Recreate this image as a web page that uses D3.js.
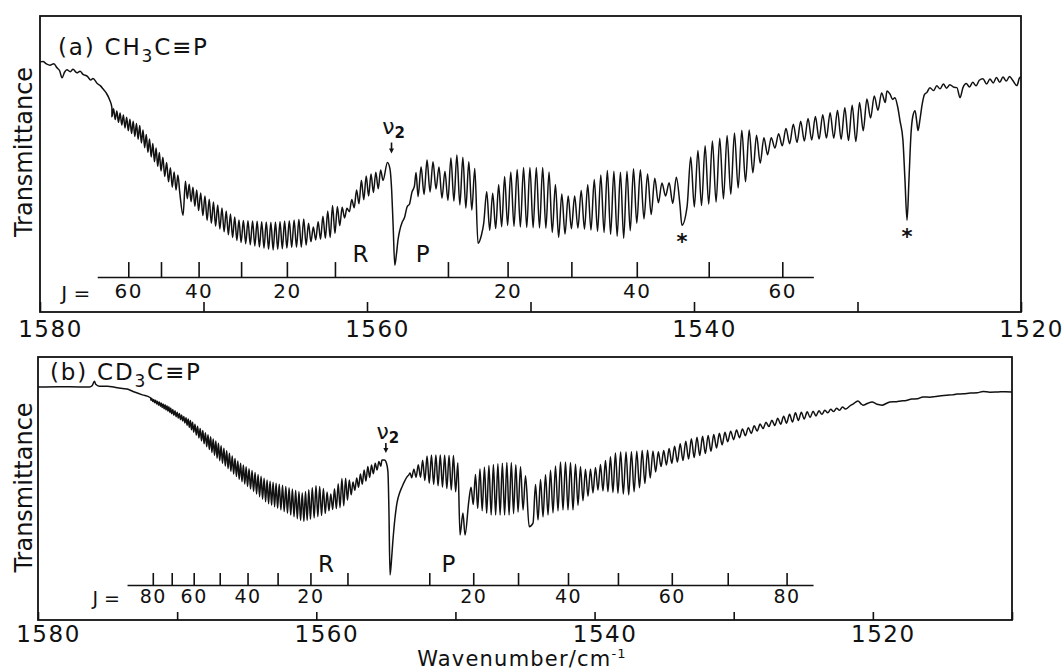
<!DOCTYPE html>
<html>
<head>
<meta charset="utf-8">
<script src="https://cdn.jsdelivr.net/npm/d3@7"></script>
<style>
  body { margin: 0; background: #fff; }
  text { font-family: "DejaVu Sans", sans-serif; fill: #111; }
</style>
</head>
<body>
<svg id="chart" width="1064" height="670"></svg>
<script>
// ---------- panel (a) CH3C≡P ----------
var wnTicksA = [1580, 1570, 1560, 1550, 1540, 1530, 1520];
var wnLabelsA = [1580, 1560, 1540, 1520];
var jLevelsA = [10, 20, 30, 40, 50, 60];
var jLabelsA = [20, 40, 60];
var rTicksA = [1561.96, 1564.9, 1567.7, 1570.3, 1572.6, 1574.6];   // R(J) positions, cm-1
var pTicksA = [1555.05, 1551.4, 1547.5, 1543.5, 1539.1, 1534.6];   // P(J) positions
var jRangeA = [1576.5, 1532.7];
// smooth parts of the trace [wavenumber, transmittance]
var traceA = [[1580.0, 84.5], [1579.82, 84.6], [1579.6, 83.8], [1579.39, 83.4], [1579.15, 83.9], [1578.96, 82.5],
  [1578.8, 81.5], [1578.65, 79.1], [1578.5, 81.0], [1578.35, 81.8], [1578.15, 81.2], [1577.98, 82.0],
  [1577.75, 80.8], [1577.55, 81.3], [1577.37, 80.3], [1577.1, 79.6], [1576.9, 78.4], [1576.76, 78.9],
  [1576.5, 77.2], [1576.3, 76.4], [1576.15, 75.4], [1575.95, 74.0], [1575.75, 71.8],
  // Q branch of nu2
  [1558.6, 48.5], [1558.5, 42], [1558.4, 29], [1558.3, 15.8], [1558.2, 19.5], [1558.1, 24.5], [1558.0, 27.5],
  [1557.85, 30.3], [1557.7, 32], [1557.55, 35.5], [1557.4, 36.5], [1557.25, 40.5], [1557.1, 42.5],
  // high-J end and the starred band
  [1528.0, 73.5], [1527.85, 71.8], [1527.71, 72.4], [1527.55, 69.5], [1527.4, 64.6], [1527.22, 58], [1527.1, 45],
  [1526.97, 31.0], [1526.85, 45], [1526.73, 60], [1526.61, 66.3], [1526.48, 68.0], [1526.38, 64.5], [1526.3, 61.3],
  [1526.18, 65], [1526.05, 70], [1525.9, 73.5], [1525.75, 74.2], [1525.57, 75.8], [1525.35, 74.8], [1525.15, 76.4],
  [1524.95, 75.4], [1524.75, 77.0], [1524.55, 75.6], [1524.35, 76.8], [1524.1, 75.9], [1523.92, 75.8], [1523.73, 72.4],
  [1523.55, 75.8], [1523.35, 77.2], [1523.15, 76.0], [1522.95, 77.6], [1522.75, 76.4], [1522.55, 78.3], [1522.33, 78.8],
  [1522.1, 77.0], [1521.9, 78.7], [1521.7, 77.4], [1521.5, 79.2], [1521.3, 77.6], [1521.1, 79.4], [1520.9, 78.0],
  [1520.7, 79.6], [1520.5, 78.2], [1520.25, 76.5], [1520.1, 79.0], [1520.0, 79.5]];
// envelopes of the rotational structure (top = between lines, bottom = on the lines)
var rUpA = [[1575.6, 69.0], [1573.9, 63.0], [1571.9, 47.8], [1570.8, 42.8], [1569.8, 38.7], [1567.8, 31.0], [1565.8, 30.3],
  [1564.5, 31.0], [1563.9, 31.6], [1563.3, 28.6], [1562.1, 36.0], [1561.2, 35.0], [1560.25, 45.5], [1559.2, 47.8], [1558.75, 50.5]];
var rLoA = [[1575.6, 66.0], [1573.9, 57.9], [1571.9, 42.1], [1570.8, 37.5], [1569.8, 31.0], [1567.8, 23.6], [1565.8, 20.9],
  [1564.5, 21.9], [1563.9, 21.9], [1563.3, 24.2], [1562.1, 25.3], [1561.2, 33.3], [1560.25, 37.7], [1559.2, 42.1], [1558.75, 48.0]];
var pUpA = [[1557.0, 47.1], [1556.3, 51.5], [1555.7, 50.2], [1555.35, 46.1], [1554.75, 53.5], [1554.1, 52.2], [1553.5, 49.5],
  [1552.5, 38.7], [1551.45, 46.8], [1550.5, 48.8], [1549.0, 48.8], [1548.2, 40.1], [1547.4, 38.7], [1546.2, 44.4],
  [1545.3, 47.8], [1544.3, 47.1], [1543.5, 48.8], [1542.5, 45.5], [1541.9, 43.4], [1541.3, 43.8], [1540.06, 53.5],
  [1538.84, 57.9], [1537.98, 59.6], [1536.76, 62.0], [1535.96, 58.9], [1535.17, 58.9], [1534.13, 63.0], [1533.09, 65.3],
  [1531.68, 67.3], [1530.03, 70.4], [1529.24, 72.4], [1528.2, 74.7]];
var pLoA = [[1557.0, 38.7], [1556.3, 40.1], [1555.7, 41.8], [1555.35, 37.7], [1554.75, 37.7], [1554.1, 35.4], [1553.5, 34.3],
  [1552.5, 27.6], [1551.45, 29.3], [1550.5, 28.6], [1549.0, 28.3], [1548.2, 24.9], [1547.4, 28.6], [1546.2, 27.6],
  [1545.3, 26.6], [1544.3, 24.9], [1543.5, 30.0], [1542.5, 33.3], [1541.9, 40.1], [1541.3, 36.7], [1540.06, 35.4],
  [1538.84, 36.7], [1537.98, 38.7], [1536.76, 44.4], [1535.96, 50.2], [1535.17, 55.2], [1534.13, 56.9], [1533.09, 57.9],
  [1531.68, 58.9], [1530.03, 57.5], [1529.24, 65.3], [1528.2, 71.4]];
var dipsA = [[1571.25, 32.7], [1553.21, 23.2], [1553.0, 26.0], [1540.74, 29.3]];
var starsA = [[1540.74, 29.3], [1526.97, 31.0]];
var nuA = [1558.5, 50.5];
var branchA = [["R", 1560.4], ["P", 1556.6]];

// ---------- panel (b) CD3C≡P ----------
var wnTicksB = [1580, 1570, 1560, 1550, 1540, 1530, 1520, 1510];
var wnLabelsB = [1580, 1560, 1540, 1520];
var jLevelsB = [10, 20, 30, 40, 50, 60, 70, 80];
var jLabelsB = [20, 40, 60, 80];
var rTicksB = [1557.76, 1560.42, 1562.78, 1564.94, 1566.94, 1568.81, 1570.39, 1571.75];
var pTicksB = [1551.88, 1548.72, 1545.5, 1541.91, 1538.32, 1534.45, 1530.43, 1526.2];
var jRangeB = [1573.6, 1524.3];
var traceB = [[1580.0, 88.6], [1578.5, 88.7], [1577.0, 88.6], [1576.3, 88.6], [1576.1, 89.2], [1575.95, 90.8],
  [1575.85, 89.6], [1575.6, 88.9], [1575.04, 88.9], [1574.3, 88.3], [1573.6, 87.8], [1573.17, 86.9], [1572.5, 85.6],
  [1571.95, 84.6],
  [1555.1, 60.8], [1554.95, 59.5], [1554.85, 56.3], [1554.78, 42], [1554.7, 17.1], [1554.6, 22.5], [1554.49, 30.4],
  [1554.35, 38.5], [1554.2, 44.5], [1554.0, 48.5], [1553.84, 50.6], [1553.65, 52.8], [1553.48, 54.4], [1553.35, 55.2],
  [1521.43, 82.1], [1521.07, 83.3], [1520.85, 82.2], [1520.71, 81.7], [1520.4, 82.3], [1520.06, 82.9], [1519.7, 82.0],
  [1519.34, 81.7], [1519.0, 82.4], [1518.77, 82.9], [1518.3, 83.0], [1518.0, 83.3], [1517.6, 83.5], [1517.2, 84.0],
  [1516.8, 84.1], [1516.4, 84.8], [1515.9, 84.7], [1515.5, 85.0], [1515.1, 85.3], [1514.7, 85.5], [1514.3, 85.6],
  [1513.95, 85.9], [1513.5, 86.0], [1513.0, 86.3], [1512.5, 86.4], [1512.08, 86.9], [1511.6, 86.6], [1511.0, 86.7],
  [1510.5, 86.8], [1510.0, 86.7]];
var rUpB = [[1571.9, 84.4], [1570.73, 81.5], [1569.58, 77.6], [1569.08, 76.0], [1567.14, 67.7], [1565.48, 59.7],
  [1563.54, 53.2], [1562.1, 50.6], [1560.95, 48.3], [1559.95, 51.3], [1559.52, 50.2], [1559.01, 47.5], [1558.08, 54.4],
  [1557.36, 52.5], [1556.35, 58.2], [1555.28, 60.8]];
var rLoB = [[1571.9, 83.6], [1570.73, 79.6], [1569.58, 75.6], [1569.08, 73.0], [1567.14, 61.6], [1565.48, 53.2],
  [1563.54, 44.5], [1562.1, 40.7], [1560.95, 37.3], [1559.95, 39.2], [1559.52, 39.9], [1559.01, 41.8], [1558.08, 43.0],
  [1557.36, 48.7], [1556.35, 53.2], [1555.28, 58.9]];
var pUpB = [[1553.26, 55.9], [1552.55, 59.7], [1551.97, 62.7], [1550.96, 62.7], [1550.05, 62.5], [1548.95, 49.4],
  [1548.45, 57.0], [1547.51, 58.9], [1546.08, 60.1], [1545.14, 57.8], [1544.64, 49.4], [1543.71, 54.4], [1542.48, 60.1],
  [1541.98, 60.1], [1541.55, 59.7], [1540.54, 57.0], [1539.82, 58.2], [1538.39, 63.9], [1537.46, 63.9], [1536.24, 64.6],
  [1535.3, 63.9], [1534.36, 65.8], [1532.93, 69.2], [1531.71, 70.3], [1530.49, 71.5], [1529.04, 73.0], [1527.61, 75.3],
  [1525.74, 78.7], [1523.3, 79.8], [1521.6, 81.6]];
var pLoB = [[1553.26, 54.0], [1552.55, 54.4], [1551.97, 52.1], [1550.96, 50.6], [1550.05, 49.0], [1548.95, 45.0],
  [1548.45, 42.6], [1547.51, 39.9], [1546.08, 39.9], [1545.14, 41.8], [1544.64, 36.1], [1543.71, 39.2], [1542.48, 41.8],
  [1541.98, 41.8], [1541.55, 41.8], [1540.54, 46.8], [1539.82, 49.4], [1538.39, 48.3], [1537.46, 47.5], [1536.24, 52.5],
  [1535.3, 58.2], [1534.36, 59.7], [1532.93, 61.6], [1531.71, 63.9], [1530.49, 67.7], [1529.04, 70.3], [1527.61, 73.4],
  [1525.74, 75.3], [1523.3, 78.7], [1521.6, 80.6]];
var dipsB = [[1549.67, 32.3], [1549.46, 40.7], [1549.31, 32.3], [1544.7, 35.5]];
var starsB = [];
var nuB = [1555.0, 60.8];
var branchB = [["R", 1559.3], ["P", 1550.5]];

var svg = d3.select("#chart");

// put together the plotted points: smooth parts + one dip per rotational line
function buildTrace(p) {
  var ranges = [];
  var osc = [];
  [[p.rTicks, p.rUp, p.rLo, 0], [p.pTicks, p.pUp, p.pLo, 1]].forEach(function (b) {
    var up = b[1], lo = b[2];
    var hi = up[0][0], lw = up[up.length - 1][0];
    ranges.push([lw, hi]);
    var jToWn = d3.scaleLinear().domain(p.jLevels).range(b[0]);
    var upS = d3.scaleLinear().domain(up.map(d => d[0])).range(up.map(d => d[1]));
    var loS = d3.scaleLinear().domain(lo.map(d => d[0])).range(lo.map(d => d[1]));
    var lines = d3.range(b[3], 200).map(jToWn)
      .filter(w => w < hi && w > lw).sort(d3.descending);
    osc.push([hi, upS(hi)]);
    lines.forEach(function (w, i) {
      osc.push([w, loS(w)]);
      if (i < lines.length - 1) {
        var m = (w + lines[i + 1]) / 2;
        osc.push([m, upS(m)]);
      }
    });
    osc.push([lw, upS(lw)]);
  });
  osc = osc.filter(d => !p.dips.some(q => Math.abs(q[0] - d[0]) < 0.12));
  var smooth = p.trace.filter(d => !ranges.some(r => d[0] >= r[0] && d[0] <= r[1]));
  return smooth.concat(osc, p.dips).sort((a, b) => b[0] - a[0]);
}

function drawPanel(p) {
  var x = d3.scaleLinear().domain(p.wnRange).range([p.left, p.right]);
  var y = d3.scaleLinear().domain([0, 100]).range([p.bottom, p.top]);
  var g = svg.append("g");

  // spectrum
  g.append("path")
    .datum(buildTrace(p))
    .attr("d", d3.line().x(d => x(d[0])).y(d => y(d[1])).curve(d3.curveMonotoneX))
    .attr("fill", "none")
    .attr("stroke", "#111")
    .attr("stroke-width", 1.5)
    .attr("stroke-linejoin", "round");

  // frame
  g.append("rect")
    .attr("x", p.left).attr("y", p.top)
    .attr("width", p.right - p.left).attr("height", p.bottom - p.top)
    .attr("fill", "none").attr("stroke", "#111").attr("stroke-width", 1.8);

  // wavenumber axis, ticks pointing inwards
  var ax = d3.axisBottom(x)
    .tickValues(p.wnTicks)
    .tickSizeInner(-p.tickLen).tickSizeOuter(0)
    .tickPadding(p.labelPad)
    .tickFormat(d => p.wnLabels.indexOf(d) >= 0 ? d : "");
  g.append("g")
    .attr("transform", "translate(0," + p.bottom + ")")
    .call(ax)
    .call(s => s.select(".domain").remove())
    .call(s => s.selectAll("line").attr("stroke", "#111").attr("stroke-width", 1.6))
    .call(s => s.selectAll("text").attr("dx", 10).attr("fill", "#111")
      .style("font-size", "23px").style("letter-spacing", "1.5px").style("font-family", "DejaVu Sans"));

  // J scale of the rotational assignment
  var jOf = new Map();
  p.jLevels.forEach(function (j, i) { jOf.set(p.rTicks[i], j); jOf.set(p.pTicks[i], j); });
  var xJ = x.copy().domain(p.jRange).range(p.jRange.map(x));
  var axJ = d3.axisBottom(xJ)
    .tickValues(p.rTicks.concat(p.pTicks))
    .tickSizeInner(-p.jTickLen).tickSizeOuter(0)
    .tickPadding(p.jPad)
    .tickFormat(d => p.jLabels.indexOf(jOf.get(d)) >= 0 ? jOf.get(d) : "");
  g.append("g")
    .attr("transform", "translate(0," + y(p.jLevel) + ")")
    .call(axJ)
    .call(s => s.selectAll("line,path").attr("stroke", "#111").attr("stroke-width", 1.6))
    .call(s => s.selectAll("text").attr("fill", "#111")
      .style("font-size", p.jFont + "px").style("letter-spacing", "1.5px").style("font-family", "DejaVu Sans"));
  g.append("text")
    .attr("x", xJ(p.jRange[0]) - 7)
    .attr("y", y(p.jLevel) + p.jPad + p.jFont * 0.71 + 2)
    .attr("text-anchor", "end")
    .style("font-size", p.jFont + "px")
    .text("J =");

  // R / P branch letters
  g.selectAll(".branch").data(p.branch).enter().append("text")
    .attr("x", d => x(d[1])).attr("y", y(p.jLevel) - p.branchGap)
    .attr("text-anchor", "middle")
    .style("font-size", "23px")
    .text(d => d[0]);

  // nu2 arrow and label
  var nx = x(p.nu[0]), ny = y(p.nu[1]);
  g.append("line")
    .attr("x1", nx).attr("x2", nx)
    .attr("y1", ny - p.nuOff[1]).attr("y2", ny - p.nuOff[2] - 4)
    .attr("stroke", "#111").attr("stroke-width", 1.6);
  g.append("path")
    .attr("d", "M" + (nx - 2.5) + "," + (ny - p.nuOff[2] - 5) + "L" + (nx + 2.5) + "," + (ny - p.nuOff[2] - 5) +
      "L" + nx + "," + (ny - p.nuOff[2]) + "Z")
    .attr("fill", "#111");
  var nt = g.append("text")
    .attr("x", nx + 2).attr("y", ny - p.nuOff[0])
    .attr("text-anchor", "middle")
    .style("font-size", "22px");
  nt.append("tspan").text("ν");
  nt.append("tspan").attr("dy", 4).style("font-size", "15px").style("font-weight", "bold").text("2");

  // impurity stars
  g.selectAll(".star").data(p.stars).enter().append("text")
    .attr("x", d => x(d[0])).attr("y", d => y(d[1]) + 24)
    .attr("text-anchor", "middle")
    .style("font-size", "21px").style("font-weight", "bold")
    .text("*");

  // compound label
  var tt = g.append("text")
    .attr("x", p.left + p.titleDx).attr("y", p.top + p.titleDy)
    .style("font-size", "23px").style("letter-spacing", "1.8px");
  tt.append("tspan").text(p.title[0]);
  tt.append("tspan").attr("dy", 7).style("font-size", "17px").text("3");
  tt.append("tspan").attr("dy", -7).text(p.title[1]);

  // y label
  svg.append("text")
    .attr("transform", "translate(" + 32 + "," + ((p.top + p.bottom) / 2 + p.yLabDy) + ") rotate(-90)")
    .attr("text-anchor", "middle")
    .style("font-size", "24px")
    .text("Transmittance");
}

drawPanel({
  wnRange: [1580, 1520], left: 40, right: 1021, top: 16, bottom: 312,
  wnTicks: wnTicksA, wnLabels: wnLabelsA, tickLen: 10, labelPad: 9,
  jLevels: jLevelsA, jLabels: jLabelsA, rTicks: rTicksA, pTicks: pTicksA, jRange: jRangeA,
  jLevel: 11.8, jTickLen: 15, jPad: 7, jFont: 20, branchGap: 15,
  trace: traceA, rUp: rUpA, rLo: rLoA, pUp: pUpA, pLo: pLoA, dips: dipsA,
  stars: starsA, nu: nuA, nuOff: [29, 20, 9], branch: branchA,
  title: ["(a) CH", "C≡P"], titleDx: 18, titleDy: 39, yLabDy: -12
});

drawPanel({
  wnRange: [1580, 1510], left: 38, right: 1012, top: 357, bottom: 620,
  wnTicks: wnTicksB, wnLabels: wnLabelsB, tickLen: 8, labelPad: 6,
  jLevels: jLevelsB, jLabels: jLabelsB, rTicks: rTicksB, pTicks: pTicksB, jRange: jRangeB,
  jLevel: 13.3, jTickLen: 12, jPad: 4, jFont: 19, branchGap: 13,
  trace: traceB, rUp: rUpB, rLo: rLoB, pUp: pUpB, pLo: pLoB, dips: dipsB,
  stars: starsB, nu: nuB, nuOff: [21, 17, 7], branch: branchB,
  title: ["(b) CD", "C≡P"], titleDx: 12, titleDy: 23, yLabDy: -1
});

// common x title
var xt = svg.append("text")
  .attr("x", 522).attr("y", 666)
  .attr("text-anchor", "middle")
  .style("font-size", "21px").style("letter-spacing", "1.2px");
xt.append("tspan").text("Wavenumber/cm");
xt.append("tspan").attr("dy", -8).style("font-size", "13px").text("-1");
</script>
</body>
</html>
